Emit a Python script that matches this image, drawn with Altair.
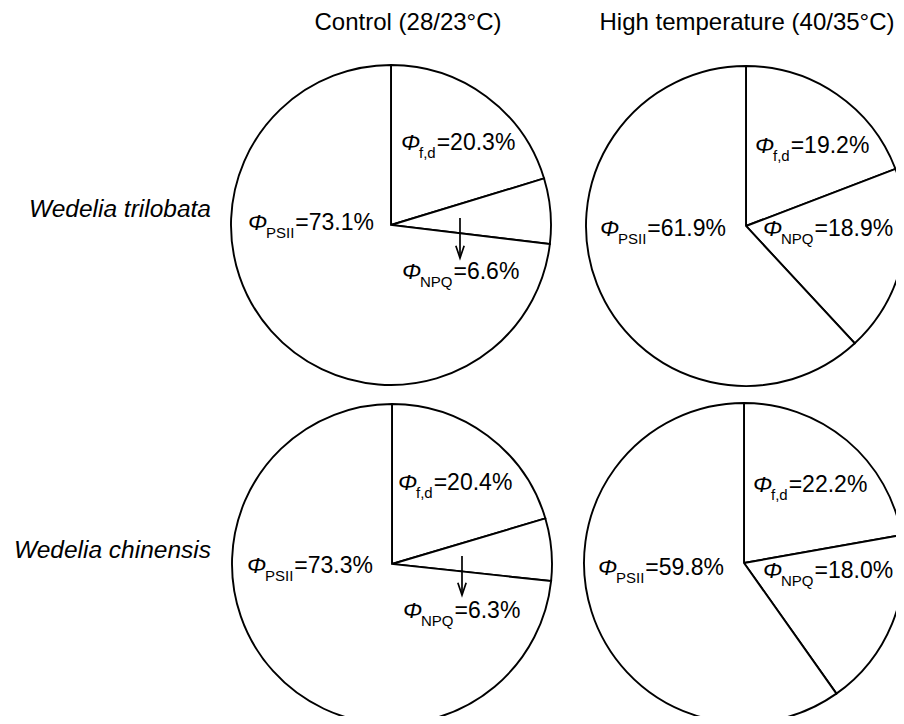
import altair as alt
import pandas as pd

# ---------------- data ----------------
species = ["Wedelia trilobata", "Wedelia chinensis"]
treatments = ["Control (28/23°C)", "High temperature (40/35°C)"]
components = ["f,d", "NPQ", "PSII"]          # clockwise from 12 o'clock
# panel order: trilobata-control, trilobata-high, chinensis-control, chinensis-high
phi_fd = [20.3, 19.2, 20.4, 22.2]
phi_npq = [6.6, 18.9, 6.3, 18.0]
phi_psii = [73.1, 61.9, 73.3, 59.8]

# ---------------- layout (page pixels, converted to chart coords) ----------------
PAD_TOP = 4
W, H = 888, 708 - PAD_TOP
R = 160
OFFX = 8
OFFY = 8 + PAD_TOP
centers = [(391, 225), (746, 226), (392, 564), (744, 563)]
# anchor of each label (left of the Phi glyph, baseline) per panel
label_pos = [
    {"f,d": (401, 150), "NPQ": (402, 279), "PSII": (248, 230)},
    {"f,d": (755, 153), "NPQ": (763, 236), "PSII": (600, 236)},
    {"f,d": (398, 490), "NPQ": (403, 618), "PSII": (247, 573)},
    {"f,d": (753, 492), "NPQ": (763, 578), "PSII": (598, 575)},
]
arrows = {0: (460, 218, 258), 2: (462, 556, 595)}
title_pos = [(408, 30), (747, 30)]
row_pos = [(211, 217), (211, 558)]

MAIN = 23
SUB = 15
PHI_W = 18
FONT = "Liberation Sans"
ARIAL_W = {"f": .278, ",": .278, "d": .556, "N": .722, "P": .667, "Q": .778,
           "S": .667, "I": .278}


def sub_width(s):
    return sum(ARIAL_W.get(c, .556) for c in s) * SUB


arc_layers = []
phi_rows, sub_rows, main_rows = [], [], []
for i in range(4):
    vals = {"f,d": phi_fd[i], "NPQ": phi_npq[i], "PSII": phi_psii[i]}
    df = pd.DataFrame({
        "component": components,
        "value": [vals[c] for c in components],
        "order": list(range(len(components))),
    })
    cx, cy = centers[i]
    arc_layers.append(
        alt.Chart(df).mark_arc(outerRadius=R, stroke="black", strokeWidth=1.9,
                               fill="white").encode(
            theta=alt.Theta("value:Q", stack=True),
            order=alt.Order("order:Q"),
            x=alt.value(cx - OFFX),
            y=alt.value(cy - OFFY),
        )
    )
    for c in components:
        x0, y0 = label_pos[i][c]
        x0 -= OFFX
        y0 -= OFFY
        phi_rows.append({"x": x0, "y": y0, "text": "Φ"})
        sub_rows.append({"x": x0 + PHI_W, "y": y0 + 8, "text": c})
        main_rows.append({"x": x0 + PHI_W + sub_width(c) + 1, "y": y0,
                          "text": "=" + f"{vals[c]:.1f}%"})

XY = dict(x=alt.X("x:Q", scale=None, axis=None),
          y=alt.Y("y:Q", scale=None, axis=None))

phi_layer = alt.Chart(pd.DataFrame(phi_rows)).mark_text(
    font=FONT, fontSize=MAIN, fontStyle="italic", align="left",
    baseline="alphabetic", color="black").encode(text="text:N", **XY)
sub_layer = alt.Chart(pd.DataFrame(sub_rows)).mark_text(
    font=FONT, fontSize=SUB, align="left", baseline="alphabetic",
    color="black").encode(text="text:N", **XY)
main_layer = alt.Chart(pd.DataFrame(main_rows)).mark_text(
    font=FONT, fontSize=MAIN, align="left", baseline="alphabetic",
    color="black").encode(text="text:N", **XY)

title_df = pd.DataFrame({"text": treatments,
                         "x": [p[0] - OFFX for p in title_pos],
                         "y": [p[1] - OFFY for p in title_pos]})
title_layer = alt.Chart(title_df).mark_text(
    font=FONT, fontSize=24, align="center", baseline="alphabetic",
    color="black").encode(text="text:N", **XY)

row_df = pd.DataFrame({"text": species,
                       "x": [p[0] - OFFX for p in row_pos],
                       "y": [p[1] - OFFY for p in row_pos]})
row_layer = alt.Chart(row_df).mark_text(
    font=FONT, fontSize=24.5, fontStyle="italic", align="right",
    baseline="alphabetic", color="black").encode(text="text:N", **XY)

arrow_df = pd.DataFrame({"x": [a[0] - OFFX for a in arrows.values()],
                         "y": [a[1] - OFFY for a in arrows.values()],
                         "y2": [a[2] - OFFY for a in arrows.values()]})
shaft = alt.Chart(arrow_df).mark_rule(color="black", strokeWidth=1.7).encode(
    x=alt.X("x:Q", scale=None, axis=None),
    y=alt.Y("y:Q", scale=None, axis=None),
    y2="y2:Q")
head = alt.Chart(arrow_df).mark_point(
    shape="M-0.34,-1L0,0L0.34,-1", filled=False, stroke="black",
    strokeWidth=1.7, size=600, opacity=1).encode(
    x=alt.X("x:Q", scale=None, axis=None),
    y=alt.Y("y2:Q", scale=None, axis=None))

chart = alt.layer(
    *arc_layers, shaft, head, phi_layer, sub_layer, main_layer,
    title_layer, row_layer
).resolve_scale(theta="independent").properties(
    width=W, height=H,
    padding={"left": 0, "top": PAD_TOP, "right": 0, "bottom": 0},
    autosize=alt.AutoSizeParams(type="none"),
    background="white"
).configure_view(stroke=None)

chart.save("out.html", embed_options={"renderer": "svg", "actions": False})
